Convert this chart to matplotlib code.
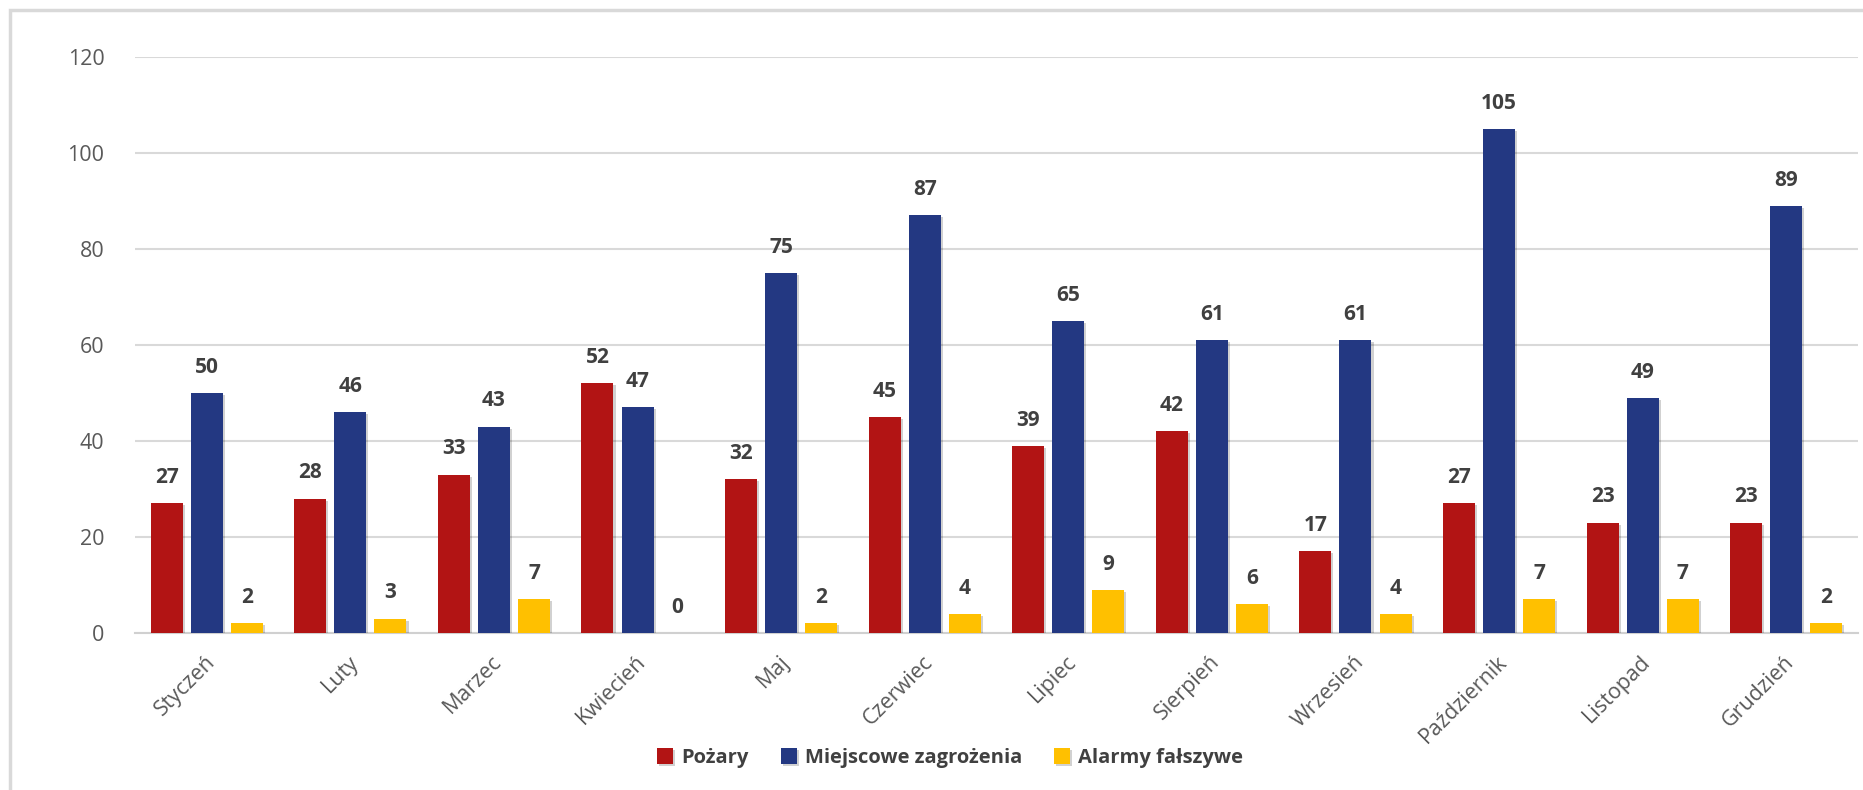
import matplotlib
matplotlib.use("Agg")
import matplotlib.pyplot as plt
import matplotlib.patheffects as pe
from matplotlib.patches import Rectangle
import numpy as np

months = ["Styczeń", "Luty", "Marzec", "Kwiecień", "Maj", "Czerwiec", "Lipiec",
          "Sierpień", "Wrzesień", "Październik", "Listopad", "Grudzień"]
pozary = [27, 28, 33, 52, 32, 45, 39, 42, 17, 27, 23, 23]
miejscowe = [50, 46, 43, 47, 75, 87, 65, 61, 61, 105, 49, 89]
alarmy = [2, 3, 7, 0, 2, 4, 9, 6, 4, 7, 7, 2]
series_names = ["Pożary", "Miejscowe zagrożenia", "Alarmy fałszywe"]
colors = ["#B21414", "#233882", "#FFC000"]
yticks = [0, 20, 40, 60, 80, 100, 120]

plt.rcParams['font.family'] = ['Open Sans', 'DejaVu Sans']

fig = plt.figure(figsize=(18.63, 7.90), dpi=100)
ax = fig.add_axes([135/1863, 1-633/790, (1858-135)/1863, (633-57)/790])

# outer chart border
fig.patches.append(Rectangle((10/1863, -0.01), 1.0, 1-10/790+0.01,
                             transform=fig.transFigure, fill=False,
                             edgecolor="#d9d9d9", linewidth=2.5, zorder=0))

x = np.arange(len(months))
w = 0.223
step = 0.279
shadow = [pe.SimplePatchShadow(offset=(1.5, -1.5), shadow_rgbFace="black", alpha=0.18), pe.Normal()]
for i, (vals, col, name) in enumerate(zip([pozary, miejscowe, alarmy], colors, series_names)):
    bars = ax.bar(x + (i - 1) * step, vals, width=w, color=col, label=name, zorder=3)
    for b in bars:
        b.set_path_effects(shadow)
    for xi, v in zip(x + (i - 1) * step, vals):
        ax.annotate(str(v), (xi, v), xytext=(0, 11), textcoords="offset points",
                    ha="center", va="bottom", fontsize=15, fontweight="bold",
                    color="#404040", zorder=4)

ax.set_xlim(-0.5, len(months) - 0.5)
ax.set_ylim(0, 120)
ax.set_yticks(yticks)
ax.yaxis.grid(True, color="#d9d9d9", linewidth=1.5, zorder=0)
ax.set_axisbelow(True)
for s in ["top", "right", "left"]:
    ax.spines[s].set_visible(False)
ax.spines["bottom"].set_color("#d0d0d0")
ax.spines["bottom"].set_linewidth(1.5)
ax.tick_params(axis="y", length=0, pad=22, labelsize=15.5, labelcolor="#595959")
ax.tick_params(axis="x", length=0, pad=10, labelsize=15.5, labelcolor="#595959")
ax.set_xticks(x)
ax.set_xticklabels(months, rotation=45, ha="right", va="center", rotation_mode="anchor")
for lbl in ax.get_xticklabels():
    lbl.set_transform(lbl.get_transform() + matplotlib.transforms.ScaledTranslation(0.05, -0.12, fig.dpi_scale_trans))

leg = fig.legend(loc="center", bbox_to_anchor=(0.51, 1-758/790), ncol=3, frameon=False,
                 prop={"size": 14.5, "weight": "bold"}, handlelength=0.8, handleheight=0.8,
                 handletextpad=0.4, columnspacing=1.6)
for t in leg.get_texts():
    t.set_color("#404040")

fig.savefig("out.png", dpi=100, facecolor="white")
